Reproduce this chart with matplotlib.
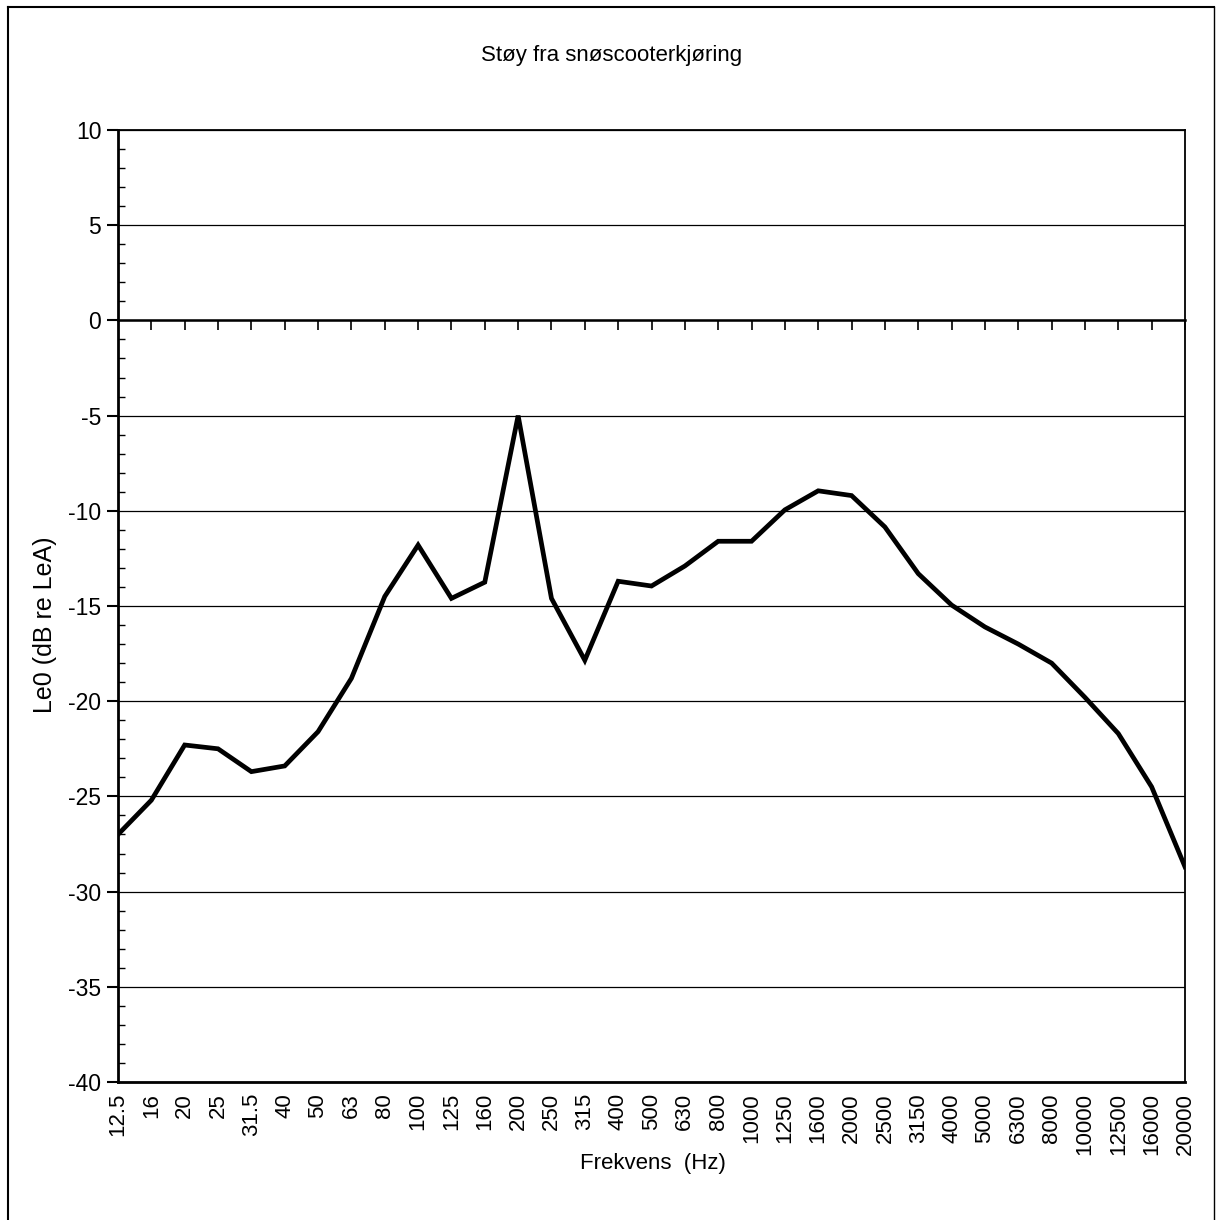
import matplotlib.pyplot as plt
from matplotlib.lines import Line2D
from matplotlib.ticker import MultipleLocator
import numpy as np

plt.rcParams['font.family'] = ['Liberation Sans', 'DejaVu Sans']
plt.rcParams['axes.unicode_minus'] = False

# tertsband frequencies (Hz) and level re LeA (dB)
freq_labels = ["12.5", "16", "20", "25", "31.5", "40", "50", "63", "80", "100",
               "125", "160", "200", "250", "315", "400", "500", "630", "800",
               "1000", "1250", "1600", "2000", "2500", "3150", "4000", "5000",
               "6300", "8000", "10000", "12500", "16000", "20000"]
le0 = [-27.0, -25.2, -22.3, -22.5, -23.7, -23.4, -21.6, -18.8, -14.5, -11.8,
       -14.6, -13.75, -5.0, -14.6, -17.85, -13.7, -13.95, -12.9, -11.6,
       -11.6, -9.95, -8.95, -9.2, -10.85, -13.3, -14.95, -16.1,
       -17.0, -18.0, -19.8, -21.7, -24.5, -28.7]

fig = plt.figure(figsize=(12.16, 12.2), dpi=100)
ax = fig.add_axes([118/1216, 1-1082/1220, (1185-118)/1216, (1082-130)/1220])

x = np.arange(len(freq_labels))
ax.plot(x, le0, color='black', lw=3.4, solid_joinstyle='miter', zorder=3)

ax.set_xlim(0, len(freq_labels)-1)
ax.set_ylim(-40, 10)
ax.yaxis.set_major_locator(MultipleLocator(5))
ax.yaxis.set_minor_locator(MultipleLocator(1))
ax.grid(axis='y', which='major', color='black', lw=0.9)

ax.set_xticks(x)
ax.set_xticklabels(freq_labels, rotation=90, fontsize=16)
ax.tick_params(axis='x', length=0, pad=8)
ax.tick_params(axis='y', which='major', direction='out', length=8, width=1.5,
               labelsize=16.5, pad=4)
ax.tick_params(axis='y', which='minor', direction='in', length=5, width=1)

for s in ['left', 'bottom']:
    ax.spines[s].set_linewidth(2)
for s in ['top', 'right']:
    ax.spines[s].set_linewidth(1.3)

# x axis crossing at 0 dB with tick marks pointing down
sec = ax.secondary_xaxis(0.8)
sec.set_xticks(x[1:])
sec.tick_params(axis='x', direction='in', length=7, width=1.2, labelbottom=False,
                labeltop=False)
sec.spines['bottom'].set_linewidth(1.8)
sec.spines['top'].set_linewidth(1.8)

fig.text(612/1216, 1-55/1220, "Støy fra snøscooterkjøring", ha='center',
         va='center', fontsize=16)
fig.text(45/1216, 1-625/1220, "Le0 (dB re LeA)", rotation=90, ha='center',
         va='center', fontsize=18)
fig.text(653/1216, 1-1163/1220, "Frekvens  (Hz)", ha='center', va='center',
         fontsize=16)

# outer chart frame
fig.add_artist(Line2D([8/1216, 8/1216], [0, 1-7/1220], color='black', lw=1.5))
fig.add_artist(Line2D([8/1216, 1214/1216], [1-7/1220, 1-7/1220], color='black', lw=1.5))
fig.add_artist(Line2D([1214/1216, 1214/1216], [0, 1-7/1220], color='black', lw=1.0))

fig.savefig('out.png', dpi=100)
